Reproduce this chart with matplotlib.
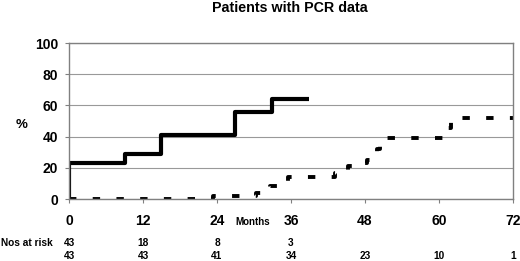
import matplotlib

matplotlib.use("Agg")
import matplotlib.pyplot as plt

plt.rcParams["font.family"] = ["Liberation Sans", "DejaVu Sans"]
plt.rcParams["font.weight"] = "bold"

# Solid curve (cumulative %, months)
solid_t = [0, 0, 9, 15, 27, 33, 39]
solid_v = [0, 23, 29, 41, 56, 64, 64]

# Dashed curve
dash_t = [0, 23.3, 30.4, 31.8, 32.6, 33.9, 35.5, 43.1, 45.2, 46.4,
          48.3, 49.1, 49.9, 50.4, 60.8, 62, 72]
dash_v = [0, 2, 4, 6, 8.5, 11, 14, 17, 21, 23,
          25, 29.5, 32, 39, 45.8, 52, 52]

x_ticks = [0, 12, 24, 36, 48, 60, 72]
y_ticks = [0, 20, 40, 60, 80, 100]

risk_row1 = [43, 18, 8, 3]
risk_row2 = [43, 43, 41, 34, 23, 10, 1]

fig = plt.figure(figsize=(5.2, 2.61), dpi=100)
ax = fig.add_axes([0.1327, 0.2375, 0.8538, 0.5975])

ax.step(solid_t, solid_v, where="post", color="black", lw=3, solid_capstyle="butt")
ax.step(dash_t, dash_v, where="post", color="black", lw=2.8,
        linestyle=(0, (1.9, 4.2)), dash_capstyle="butt")

ax.set_xlim(0, 72)
ax.set_ylim(0, 100)
ax.set_xticks(x_ticks)
ax.set_yticks(y_ticks)
ax.tick_params(labelsize=10, length=3, color="#808080")
ax.tick_params(axis="x", pad=8)
ax.tick_params(axis="y", pad=5)
for lbl in ax.get_xticklabels() + ax.get_yticklabels():
    lbl.set_fontweight("bold")
ax.yaxis.grid(True, color="#999999", lw=0.8)
ax.set_axisbelow(True)
for s in ax.spines.values():
    s.set_color("#808080")
    s.set_linewidth(1)

fig.text(0.5577, 0.971, "Patients with PCR data", ha="center", va="center",
         fontsize=10.3, fontweight="bold")
fig.text(0.0423, 0.52, "%", ha="center", va="center", fontsize=9.5, fontweight="bold")
fig.text(0.485, 0.149, "Months", ha="center", va="center", fontsize=7, fontweight="bold")

trans = ax.get_xaxis_transform()
fig.text(0.002, 0.069, "Nos at risk", ha="left", va="center", fontsize=7.3, fontweight="bold")
for x, n in zip(x_ticks, risk_row1):
    ax.text(x, -0.28, str(n), transform=trans, ha="center", va="center",
            fontsize=7.3, fontweight="bold", clip_on=False)
for x, n in zip(x_ticks, risk_row2):
    ax.text(x, -0.365, str(n), transform=trans, ha="center", va="center",
            fontsize=7.3, fontweight="bold", clip_on=False)

fig.savefig("out.png", dpi=100)
